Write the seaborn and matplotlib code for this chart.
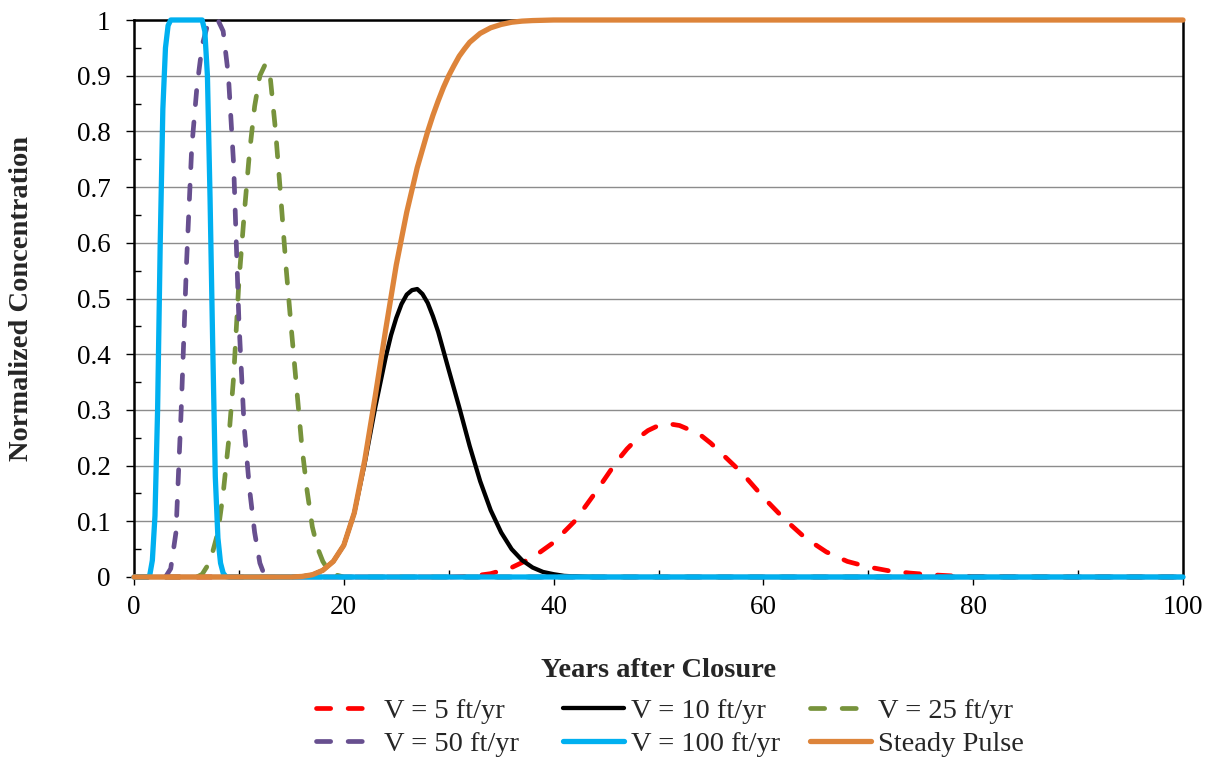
import numpy as np
import pandas as pd
import matplotlib
matplotlib.use("Agg")
import matplotlib.pyplot as plt
import seaborn as sns
from matplotlib.ticker import MultipleLocator

# ---------------- data ----------------
v5_x = [0, 30, 32, 34, 36, 38, 40, 42, 44, 46, 47, 48, 49, 50, 51, 52, 53, 54, 55, 56, 58, 60,
        62, 64, 66, 68, 70, 72, 74, 76, 78, 80, 85, 100]
v5_y = [0, 0, 0.001, 0.006, 0.017, 0.035, 0.062, 0.1, 0.152, 0.207, 0.23, 0.249, 0.263, 0.272,
        0.275, 0.272, 0.264, 0.255, 0.24, 0.222, 0.186, 0.143, 0.104, 0.07, 0.045, 0.028, 0.018,
        0.011, 0.007, 0.004, 0.002, 0.001, 0, 0]

v10_x = [0, 15, 16, 17, 18, 19, 20, 21, 22, 23, 24, 24.5, 25, 25.5, 26, 26.5, 27, 27.5, 28, 28.5,
         29, 30, 31, 32, 33, 34, 35, 36, 37, 38, 39, 40, 41, 42, 44, 100]
v10_y = [0, 0, 0.001, 0.004, 0.012, 0.028, 0.057, 0.115, 0.205, 0.305, 0.395, 0.434, 0.465, 0.49,
         0.507, 0.515, 0.517, 0.508, 0.492, 0.468, 0.44, 0.372, 0.305, 0.235, 0.172, 0.12, 0.08,
         0.05, 0.03, 0.017, 0.009, 0.005, 0.002, 0.001, 0, 0]

v25_x = [0, 6, 6.5, 7, 7.5, 8, 8.5, 9, 9.5, 10, 10.5, 11, 11.5, 12, 12.5, 13, 13.5, 14, 14.5, 15,
         15.5, 16, 16.5, 17, 17.5, 18, 18.5, 19, 20, 100]
v25_y = [0, 0, 0.005, 0.02, 0.045, 0.08, 0.15, 0.24, 0.36, 0.53, 0.65, 0.76, 0.845, 0.9, 0.92,
         0.895, 0.8, 0.68, 0.555, 0.445, 0.34, 0.235, 0.155, 0.09, 0.052, 0.028, 0.013, 0.005, 0, 0]

v50_x = [0, 3, 3.5, 4, 4.5, 5, 5.5, 6, 6.5, 7, 7.5, 8, 8.5, 9, 9.5, 10, 10.5, 11, 11.5, 12, 12.5, 100]
v50_y = [0, 0, 0.015, 0.08, 0.3, 0.56, 0.77, 0.88, 0.955, 0.99, 1.0, 1.0, 0.98, 0.9, 0.74, 0.46,
         0.27, 0.16, 0.08, 0.025, 0, 0]

v100_x = [0, 1.25, 1.5, 1.75, 2, 2.25, 2.5, 2.75, 3, 3.25, 3.5, 6.5, 6.75, 7, 7.25, 7.5, 7.75, 8,
          8.25, 8.5, 8.75, 9, 100]
v100_y = [0, 0, 0.003, 0.03, 0.11, 0.3, 0.6, 0.84, 0.95, 0.99, 1.0, 1.0, 0.98, 0.9, 0.68, 0.42,
          0.18, 0.07, 0.025, 0.007, 0.001, 0, 0]

steady_x = [0, 15, 16, 17, 18, 19, 20, 21, 22, 23, 24, 25, 26, 27, 28, 28.5, 29, 29.5, 30, 30.5,
            31, 31.5, 32, 32.5, 33, 34, 35, 36, 37, 38, 40, 100]
steady_y = [0, 0, 0.001, 0.004, 0.012, 0.028, 0.057, 0.115, 0.21, 0.325, 0.445, 0.56, 0.655,
            0.735, 0.8, 0.829, 0.855, 0.879, 0.9, 0.918, 0.935, 0.948, 0.96, 0.968, 0.976, 0.986,
            0.992, 0.996, 0.998, 0.999, 1.0, 1.0]

series_labels = ["V = 5 ft/yr", "V = 10 ft/yr", "V = 25 ft/yr", "V = 50 ft/yr",
                 "V = 100 ft/yr", "Steady Pulse"]
x_ticks = [0, 20, 40, 60, 80, 100]
x_tick_labels = ["0", "20", "40", "60", "80", "100"]
y_ticks = [0, 0.1, 0.2, 0.3, 0.4, 0.5, 0.6, 0.7, 0.8, 0.9, 1.0]
y_tick_labels = ["0", "0.1", "0.2", "0.3", "0.4", "0.5", "0.6", "0.7", "0.8", "0.9", "1"]
x_label = "Years after Closure"
y_label = "Normalized Concentration"

# ---------------- style ----------------
sns.set_style("white")
plt.rcParams["font.family"] = ["Liberation Serif", "DejaVu Serif"]

W, H = 1213, 762
fig = plt.figure(figsize=(W / 100, H / 100), dpi=100)
ax = fig.add_axes([134 / W, 1 - 577 / H, 1049 / W, 557 / H])

dash = (0, (3.0, 3.7))
specs = [
    (v5_x, v5_y, "#FF0000", 3.4, dash),
    (v10_x, v10_y, "#000000", 3.1, "-"),
    (v25_x, v25_y, "#77933C", 3.4, dash),
    (v50_x, v50_y, "#674F8F", 3.4, dash),
    (v100_x, v100_y, "#00B0F0", 3.8, "-"),
    (steady_x, steady_y, "#DD843A", 3.8, "-"),
]

handles = []
for (xs, ys, col, lw, ls), lab in zip(specs, series_labels):
    df = pd.DataFrame({"x": xs, "y": ys})
    n_before = len(ax.lines)
    sns.lineplot(data=df, x="x", y="y", ax=ax, color=col, linewidth=lw,
                 linestyle=ls, label=lab, legend=False, sort=False, estimator=None)
    line = ax.lines[n_before]
    line.set_clip_on(False)
    line.set_zorder(3)
    line.set_dash_capstyle("round")
    line.set_solid_capstyle("round")
    line.set_solid_joinstyle("round")
    handles.append(line)

ax.set_xlim(0, 100)
ax.set_ylim(0, 1)
ax.set_xticks(x_ticks)
ax.set_xticklabels(x_tick_labels)
ax.set_yticks(y_ticks)
ax.set_yticklabels(y_tick_labels)
ax.xaxis.set_minor_locator(MultipleLocator(10))
ax.yaxis.set_minor_locator(MultipleLocator(0.05))

ax.grid(False)
ax.yaxis.grid(True, which="major", color="#8C8C8C", linewidth=1.0, zorder=0)
ax.set_axisbelow(True)

ax.tick_params(axis="both", which="major", direction="out", length=6, width=1,
               color="black", labelsize=19.5, labelcolor="black")
ax.tick_params(axis="y", which="major", pad=11)
ax.tick_params(axis="x", which="major", pad=7)
ax.tick_params(axis="both", which="minor", direction="in", length=5, width=1, color="black")
ax.tick_params(axis="both", which="both", bottom=True, left=True, top=False, right=False)

for side in ["left", "top", "right", "bottom"]:
    ax.spines[side].set_visible(True)
    ax.spines[side].set_color("black")
    ax.spines[side].set_linewidth(1.8)
    ax.spines[side].set_zorder(2.5)

ax.set_xlabel(x_label, fontsize=20.5, fontweight="bold")
ax.set_ylabel(y_label, fontsize=20.5, fontweight="bold")
ax.xaxis.set_label_coords(0.5, -0.168)
ax.xaxis.label.set_va("center")
ax.yaxis.set_label_coords(-0.107, 0.5)
ax.yaxis.label.set_va("center")

# legend: three equal-width columns like the reference
columns = [[0, 3], [1, 4], [2, 5]]
col_left_px = [316, 563, 810]
for idx, xpx in zip(columns, col_left_px):
    lg = fig.legend([handles[i] for i in idx], [series_labels[i] for i in idx],
                    loc="upper left", bbox_to_anchor=(xpx / W, 1 - 698 / H), ncol=1,
                    frameon=False, fontsize=20.5, handlelength=2.15, handletextpad=0.25,
                    labelspacing=0.26, borderpad=0, borderaxespad=0)

fig.savefig("out.png", dpi=100)
